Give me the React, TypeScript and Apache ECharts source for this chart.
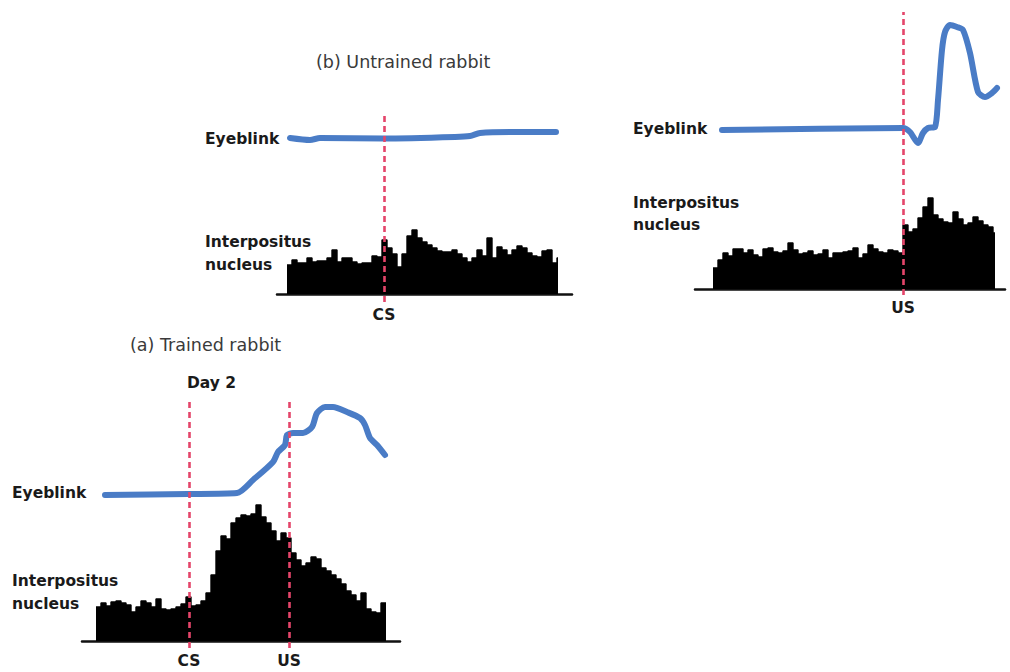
import React, { useEffect, useRef } from "react";
import * as echarts from "echarts";

// ---- Data (time units relative to the CS / US marker) ----
const BIN = 5;

// (b) Untrained rabbit, CS-aligned
const bHistStart = -97;
const bHistEnd = 174;
const bHist = [29, 34, 31, 31, 36, 32, 33, 33, 36, 44, 32, 36, 36, 32, 30, 31, 31, 38, 37, 54,
  46, 40, 27, 40, 58, 64, 56, 52, 49, 46, 43, 42, 42, 44, 40, 36, 32, 36, 44, 38,
  56, 36, 47, 44, 39, 44, 48, 46, 41, 38, 37, 43, 44, 31, 36];
const bBlinkT = [-94, -74, -64, 0, 71, 86, 96, 136, 172];
const bBlinkV = [12, 10, 12, 11.5, 13, 14, 17, 18, 18];

// Untrained rabbit, US-aligned
const uHistStart = -190;
const uHistEnd = 92;
const uHist = [21, 29, 36, 33, 40, 40, 36, 39, 34, 32, 40, 41, 37, 36, 38, 46, 39, 35, 36, 38,
  34, 35, 39, 31, 36, 36, 37, 38, 41, 31, 35, 44, 40, 37, 36, 39, 38, 36, 64, 57,
  60, 71, 82, 91, 74, 70, 67, 66, 77, 70, 64, 66, 72, 68, 64, 62, 56];
const uBlinkT = [-181, 0, 7, 15, 20, 25, 32, 35, 39, 42, 47, 54, 60, 67, 75, 82, 89, 94];
const uBlinkV = [30, 32, 28, 17, 27, 32, 33, 60, 110, 128, 135, 133, 130, 107, 68, 63, 67, 72];

// (a) Trained rabbit, Day 2
const aHistStart = -93;
const aHistEnd = 197;
const aHist = [34, 38, 35, 39, 40, 38, 36, 29, 34, 40, 38, 34, 42, 32, 31, 32, 34, 37, 44, 35,
  36, 40, 48, 66, 90, 105, 102, 118, 123, 126, 125, 127, 136, 124, 118, 110, 100, 108, 103, 88,
  81, 75, 78, 84, 82, 73, 70, 66, 62, 57, 50, 46, 40, 48, 32, 29, 28, 38];
const aBlinkT = [-84, -1, 48, 64, 84, 89, 96, 98, 104, 114, 123, 128, 136, 144, 158, 171, 176, 181, 188, 196];
const aBlinkV = [15, 16, 17, 30, 48, 58, 65, 75, 77, 77, 83, 97, 103, 103, 98, 92, 85, 72, 65, 55];

const markersB = [{ t: 0, label: "CS" }];
const markersU = [{ t: 0, label: "US" }];
const markersA = [{ t: 0, label: "CS" }, { t: 100, label: "US" }];

const BLUE = "#4a7cc6";
const RED = "#e4456a";
const FONT = "'DejaVu Sans', Verdana, sans-serif";

function histData(start: number, values: number[], end: number) {
  const d = values.map((v, i) => [start + i * BIN, v]);
  d.push([end, values[values.length - 1]]);
  return d;
}
function zip(t: number[], v: number[]) {
  return t.map((x, i) => [x, v[i]]);
}

export default function App() {
  const ref = useRef<HTMLDivElement>(null);
  useEffect(() => {
    if (!ref.current) return;
    const chart = echarts.init(ref.current, undefined, { renderer: "svg" });

    const panels = [
      { xmin: -107, xmax: 188, left: 277, width: 295, histTop: 214, histH: 80, blinkTop: 100, blinkH: 50, markTop: 115, markH: 187,
        hist: histData(bHistStart, bHist, bHistEnd), blink: zip(bBlinkT, bBlinkV), markers: markersB },
      { xmin: -208, xmax: 102, left: 695, width: 310, histTop: 189, histH: 100, blinkTop: 10, blinkH: 150, markTop: 12, markH: 283,
        hist: histData(uHistStart, uHist, uHistEnd), blink: zip(uBlinkT, uBlinkV), markers: markersU },
      { xmin: -107, xmax: 211, left: 82, width: 318, histTop: 491, histH: 150, blinkTop: 390, blinkH: 120, markTop: 402, markH: 246,
        hist: histData(aHistStart, aHist, aHistEnd), blink: zip(aBlinkT, aBlinkV), markers: markersA },
    ];

    const grid: any[] = [];
    const xAxis: any[] = [];
    const yAxis: any[] = [];
    const series: any[] = [];
    panels.forEach((p) => {
      const gi = grid.length;
      grid.push({ left: p.left, width: p.width, top: p.histTop, height: p.histH });
      xAxis.push({ type: "value", gridIndex: gi, min: p.xmin, max: p.xmax, axisLine: { show: true, onZero: true, lineStyle: { color: "#111", width: 2.5 } },
        axisTick: { show: false }, axisLabel: { show: false }, splitLine: { show: false } });
      yAxis.push({ type: "value", gridIndex: gi, min: 0, max: p.histH, show: false });
      series.push({ type: "line", xAxisIndex: gi, yAxisIndex: gi, data: p.hist, step: "end", symbol: "none",
        lineStyle: { color: "#000", width: 1.4 }, areaStyle: { color: "#000", opacity: 1 }, z: 2 });

      const bi = grid.length;
      grid.push({ left: p.left, width: p.width, top: p.blinkTop, height: p.blinkH });
      xAxis.push({ type: "value", gridIndex: bi, min: p.xmin, max: p.xmax, show: false });
      yAxis.push({ type: "value", gridIndex: bi, min: 0, max: p.blinkH, show: false });
      series.push({ type: "line", xAxisIndex: bi, yAxisIndex: bi, data: p.blink, symbol: "none", smooth: 0.25,
        lineStyle: { color: BLUE, width: 6, cap: "round", join: "round" }, z: 3 });

      const mi = grid.length;
      grid.push({ left: p.left, width: p.width, top: p.markTop, height: p.markH });
      xAxis.push({ type: "value", gridIndex: mi, min: p.xmin, max: p.xmax, show: false });
      yAxis.push({ type: "value", gridIndex: mi, min: 0, max: 1, show: false });
      series.push({ type: "line", xAxisIndex: mi, yAxisIndex: mi, data: [[p.xmin, 0], [p.xmax, 0]], symbol: "none",
        lineStyle: { opacity: 0, width: 0 }, z: 5, silent: true,
        markLine: { silent: true, symbol: ["none", "none"], z: 6,
          lineStyle: { color: RED, type: [6, 4], width: 2.6 },
          label: { show: true, position: "start", distance: 5, color: "#1a1a1a", fontWeight: "bold", fontSize: 15.5, fontFamily: FONT },
          data: p.markers.map((m) => ({ xAxis: m.t, label: { formatter: m.label } })) } });
    });

    const txt = (text: string, x: number, y: number, bold = true, lh = 22) => ({
      type: "text", x, y, silent: true,
      style: { text, fill: bold ? "#1a1a1a" : "#3a3a3a", font: bold ? `bold 15.5px ${FONT}` : `17.5px ${FONT}`, verticalAlign: "middle", lineHeight: lh },
    });

    chart.setOption({
      animation: false,
      backgroundColor: "#fff",
      grid, xAxis, yAxis, series,
      graphic: [
        txt("(b) Untrained rabbit", 316, 62, false),
        txt("Eyeblink", 205, 139),
        txt("Interpositus\nnucleus", 205, 253.5, true, 23),
        txt("Eyeblink", 633, 129),
        txt("Interpositus\nnucleus", 633, 214),
        txt("(a) Trained rabbit", 130, 345, false),
        txt("Day 2", 187, 383),
        txt("Eyeblink", 12, 493),
        txt("Interpositus\nnucleus", 12, 592.5, true, 23),
      ],
    });
    return () => chart.dispose();
  }, []);
  return <div ref={ref} style={{ position: "fixed", left: 0, top: 0, width: 1010, height: 672 }} />;
}
